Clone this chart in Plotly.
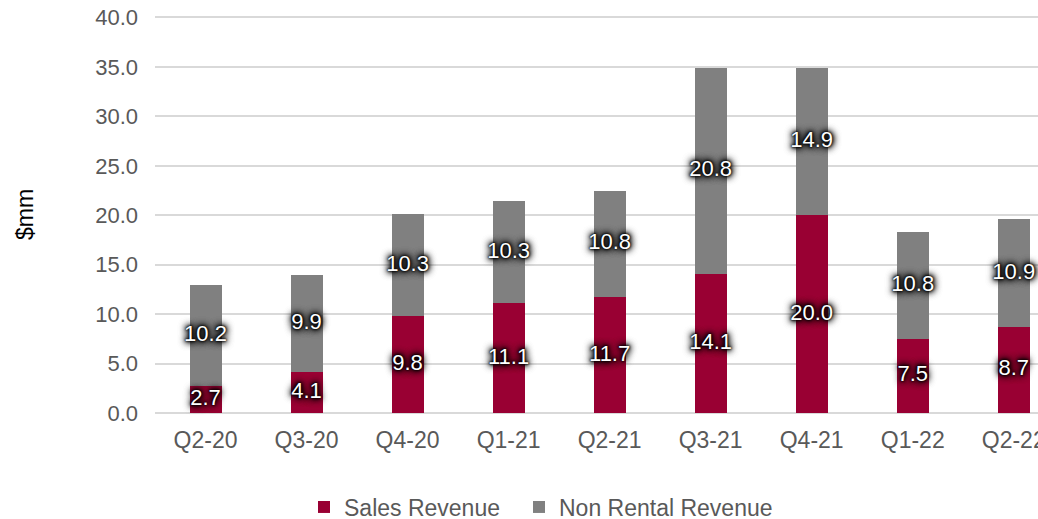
import plotly.graph_objects as go

categories = ["Q2-20", "Q3-20", "Q4-20", "Q1-21", "Q2-21", "Q3-21", "Q4-21", "Q1-22", "Q2-22"]
sales_revenue = [2.7, 4.1, 9.8, 11.1, 11.7, 14.1, 20.0, 7.5, 8.7]
non_rental_revenue = [10.2, 9.9, 10.3, 10.3, 10.8, 20.8, 14.9, 10.8, 10.9]
y_ticks = [0, 5, 10, 15, 20, 25, 30, 35, 40]

RED = "#990033"
GRAY = "#808080"
FONT = "Liberation Sans, Arial, sans-serif"
SHADOW = ("0px 0px 2px #000, 0px 0px 3px #000, 0px 0px 5px #000, "
          "0px 0px 7px #000, 0px 0px 8px #000, 0px 0px 8px #000")

fig = go.Figure()
fig.add_trace(go.Bar(x=categories, y=sales_revenue, name="Sales Revenue",
                     marker=dict(color=RED, line=dict(width=0)), width=0.317,
                     legend="legend"))
fig.add_trace(go.Bar(x=categories, y=non_rental_revenue, name="Non Rental Revenue",
                     marker=dict(color=GRAY, line=dict(width=0)), width=0.317,
                     legend="legend2"))

sales_mid = [s / 2 for s in sales_revenue]
nr_mid = [s + n / 2 for s, n in zip(sales_revenue, non_rental_revenue)]
for mids, vals in ((sales_mid, sales_revenue), (nr_mid, non_rental_revenue)):
    fig.add_trace(go.Scatter(
        x=categories, y=mids, mode="text",
        text=[f"{v:.1f}" for v in vals],
        textposition="middle center",
        textfont=dict(family=FONT, size=22, color="white", shadow=SHADOW),
        showlegend=False, hoverinfo="skip", cliponaxis=False))

legend_common = dict(orientation="h", xref="container", xanchor="left",
                     yref="container", y=1 - 507 / 519, yanchor="middle",
                     font=dict(size=23, color="#595959"), itemwidth=30,
                     bgcolor="rgba(0,0,0,0)")

fig.update_layout(
    barmode="stack",
    width=1038, height=519,
    margin=dict(l=155, r=0, t=16, b=106, autoexpand=False),
    paper_bgcolor="white", plot_bgcolor="white",
    font=dict(family=FONT, size=22, color="#595959"),
    xaxis=dict(range=[-0.5, 8.24], showgrid=False, showline=False, ticks="",
               tickangle=0, automargin=False, ticklabelstandoff=11,
               tickfont=dict(size=23, color="#595959")),
    yaxis=dict(range=[0, 40.15], tickvals=y_ticks, tickformat=".1f",
               showgrid=True, gridcolor="#d9d9d9", gridwidth=1.5,
               zeroline=True, zerolinecolor="#d9d9d9", zerolinewidth=1.5,
               showline=False, ticks="", ticklabelstandoff=16, automargin=False,
               tickfont=dict(size=22, color="#595959"),
               title=dict(text="$mm", font=dict(size=23, color="black"), standoff=55)),
    showlegend=True,
    legend=dict(x=304 / 1038, **legend_common),
    legend2=dict(x=519 / 1038, **legend_common),
)

fig.write_html("out.html", config={"displayModeBar": False},
               post_script="document.body.style.margin='0';")
